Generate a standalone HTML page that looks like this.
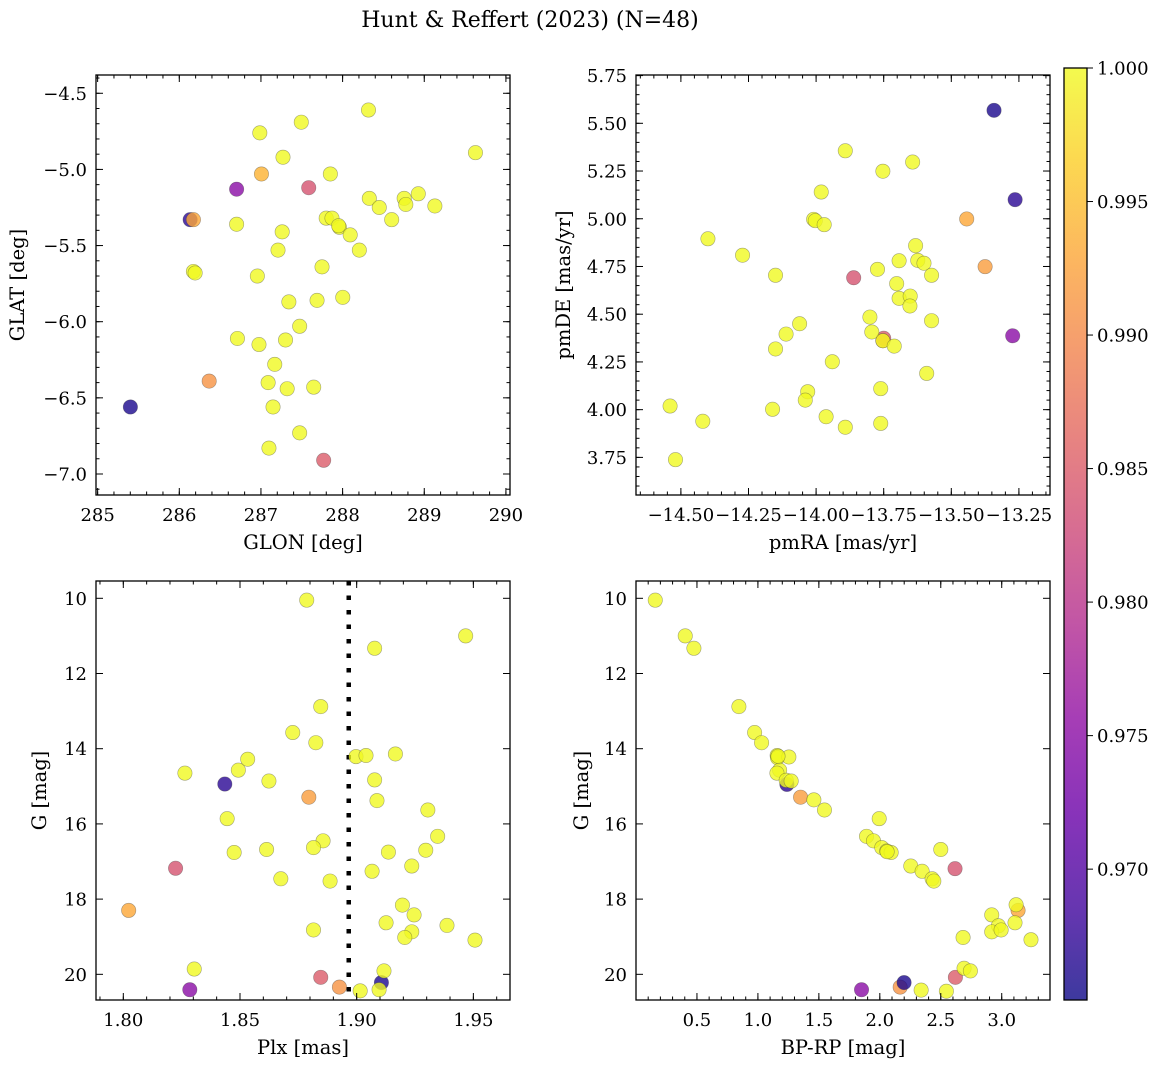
<!DOCTYPE html>
<html>
<head>
<meta charset="utf-8">
<style>
  html,body{margin:0;padding:0;background:#fff;}
  svg{display:block;font-family:"DejaVu Serif","Liberation Serif",serif;}
</style>
</head>
<body>
<svg id="fig" width="1161" height="1068" viewBox="0 0 1161 1068" xmlns="http://www.w3.org/2000/svg">
  <defs>
    <linearGradient id="plasma" x1="0" y1="1" x2="0" y2="0">
      <stop offset="0" stop-color="#0d0887"/>
      <stop offset="0.1" stop-color="#41049d"/>
      <stop offset="0.2" stop-color="#6a00a8"/>
      <stop offset="0.3" stop-color="#8f0da4"/>
      <stop offset="0.4" stop-color="#b12a90"/>
      <stop offset="0.5" stop-color="#cc4778"/>
      <stop offset="0.6" stop-color="#e16462"/>
      <stop offset="0.7" stop-color="#f2844b"/>
      <stop offset="0.8" stop-color="#fca636"/>
      <stop offset="0.9" stop-color="#fcce25"/>
      <stop offset="1" stop-color="#f0f921"/>
    </linearGradient>
  </defs>
  <text x="530" y="27" text-anchor="middle" font-size="22">Hunt &amp; Reffert (2023) (N=48)</text>
</svg>
<script>
// ---- Panel 1: GLON vs GLAT ----
const p1Glon = [285.401,286.133,286.173,286.702,287.006,287.585,287.768,286.366,
  288.317,287.494,286.986,287.270,289.627,287.850,288.327,288.754,288.774,288.927,288.449,289.130,288.601,287.799,287.870,287.961,287.951,288.093,288.205,286.702,287.260,287.209,287.748,286.173,286.194,286.956,287.342,287.687,288.002,287.474,286.712,286.976,287.301,287.169,287.088,287.321,287.646,287.148,287.474,287.098];
const p1Glat = [-6.56,-5.33,-5.33,-5.13,-5.03,-5.12,-6.91,-6.39,
  -4.61,-4.69,-4.76,-4.92,-4.89,-5.03,-5.19,-5.19,-5.23,-5.16,-5.25,-5.24,-5.33,-5.32,-5.32,-5.38,-5.37,-5.43,-5.53,-5.36,-5.41,-5.53,-5.64,-5.67,-5.68,-5.70,-5.87,-5.86,-5.84,-6.03,-6.11,-6.15,-6.12,-6.28,-6.40,-6.44,-6.43,-6.56,-6.73,-6.83];
const p1Prob = [0.966,0.967,0.993,0.975,0.994,0.984,0.985,0.991,
  1,1,1,1,1,1,1,1,1,1,1,1,1,1,1,1,1,1,1,1,1,1,1,1,1,1,1,1,1,1,1,1,1,1,1,1,1,1,1,1];
const p1XTicks = [285,286,287,288,289,290];
const p1XLabels = ["285","286","287","288","289","290"];
const p1YTicks = [-4.5,-5.0,-5.5,-6.0,-6.5,-7.0];
const p1YLabels = ["\u22124.5","\u22125.0","\u22125.5","\u22126.0","\u22126.5","\u22127.0"];

// ---- Panel 2: pmRA vs pmDE ----
const p2Pmra = [-13.342,-13.264,-13.443,-13.375,-13.273,-13.861,-13.750,-13.753,
  -13.892,-13.753,-13.643,-13.981,-14.009,-14.003,-13.970,-14.400,-14.272,-14.150,-13.632,-13.693,-13.624,-13.601,-13.773,-13.573,-13.702,-13.693,-13.652,-13.653,-13.801,-13.573,-14.061,-14.111,-13.794,-13.753,-13.711,-14.150,-13.940,-13.591,-14.031,-14.040,-13.761,-14.540,-14.419,-14.161,-13.963,-13.892,-13.761,-14.520];
const p2Pmde = [5.568,5.100,4.999,4.749,4.387,4.691,4.374,4.361,
  5.356,5.249,5.297,5.140,4.997,4.990,4.969,4.895,4.809,4.704,4.859,4.780,4.782,4.767,4.735,4.704,4.660,4.583,4.595,4.543,4.485,4.466,4.450,4.396,4.407,4.361,4.333,4.318,4.251,4.190,4.094,4.050,4.110,4.019,3.939,4.002,3.963,3.908,3.928,3.738];
const p2Prob = [0.966,0.967,0.993,0.992,0.975,0.984,0.985,0.991,
  1,1,1,1,1,1,1,1,1,1,1,1,1,1,1,1,1,1,1,1,1,1,1,1,1,1,1,1,1,1,1,1,1,1,1,1,1,1,1,1];
const p2XTicks = [-14.5,-14.25,-14.0,-13.75,-13.5,-13.25];
const p2XLabels = ["\u221214.50","\u221214.25","\u221214.00","\u221213.75","\u221213.50","\u221213.25"];
const p2YTicks = [5.75,5.5,5.25,5.0,4.75,4.5,4.25,4.0,3.75];
const p2YLabels = ["5.75","5.50","5.25","5.00","4.75","4.50","4.25","4.00","3.75"];

// ---- Panel 3: Plx vs G ----
const p3Plx = [1.8435,1.8224,1.8023,1.8795,1.8846,1.8926,1.8285,1.9106,
  1.8786,1.9467,1.9077,1.8846,1.8726,1.8825,1.8533,1.8997,1.9040,1.9166,1.8493,1.8264,1.8624,1.9077,1.9087,1.9305,1.8445,1.9347,1.8856,1.8815,1.8614,1.8475,1.9136,1.9296,1.9236,1.9066,1.8675,1.8886,1.9196,1.9246,1.9126,1.9387,1.8815,1.9236,1.9206,1.9507,1.8304,1.9117,1.9015,1.9096];
const p3G = [14.94,17.18,18.30,15.29,20.08,20.34,20.41,20.22,
  10.05,11.00,11.33,12.88,13.57,13.84,14.28,14.21,14.18,14.14,14.57,14.65,14.86,14.83,15.38,15.63,15.86,16.33,16.45,16.63,16.68,16.76,16.75,16.70,17.12,17.26,17.46,17.52,18.16,18.42,18.63,18.70,18.82,18.87,19.02,19.09,19.86,19.91,20.44,20.41];
const p3Prob = [0.967,0.984,0.993,0.992,0.985,0.991,0.975,0.966,
  1,1,1,1,1,1,1,1,1,1,1,1,1,1,1,1,1,1,1,1,1,1,1,1,1,1,1,1,1,1,1,1,1,1,1,1,1,1,1,1];
const p3MeanPlx = [1.8966];
const p3XTicks = [1.80,1.85,1.90,1.95];
const p3XLabels = ["1.80","1.85","1.90","1.95"];
const gTicks = [10,12,14,16,18,20];
const gLabels = ["10","12","14","16","18","20"];

// ---- Panel 4: BP-RP vs G ----
const p4Bprp = [1.238,1.350,2.617,3.134,2.620,2.167,2.199,1.850,
  0.158,0.404,0.475,0.844,0.973,1.030,1.158,1.161,1.254,1.178,1.156,1.232,1.273,1.459,1.546,1.995,1.891,1.948,2.016,2.057,2.093,2.500,2.254,2.347,2.429,2.443,3.118,2.918,3.109,2.973,2.918,2.995,2.683,3.240,2.691,2.743,2.339,2.546,1.165,2.060];
const p4G = [14.95,15.29,17.19,18.30,20.08,20.34,20.22,20.41,
  10.05,11.00,11.33,12.88,13.57,13.84,14.18,14.24,14.22,14.57,14.65,14.84,14.86,15.36,15.63,15.86,16.33,16.45,16.63,16.72,16.76,16.68,17.12,17.26,17.46,17.52,18.15,18.42,18.63,18.71,18.87,18.82,19.02,19.08,19.84,19.91,20.42,20.45,14.20,16.74];
const p4Prob = [0.967,0.992,0.984,0.993,0.985,0.991,0.966,0.975,
  1,1,1,1,1,1,1,1,1,1,1,1,1,1,1,1,1,1,1,1,1,1,1,1,1,1,1,1,1,1,1,1,1,1,1,1,1,1,1,1];
const p4XTicks = [0.5,1.0,1.5,2.0,2.5,3.0];
const p4XLabels = ["0.5","1.0","1.5","2.0","2.5","3.0"];

// ---- Colorbar ----
const cbTicks = [0.970,0.975,0.980,0.985,0.990,0.995,1.000];
const cbLabels = ["0.970","0.975","0.980","0.985","0.990","0.995","1.000"];
const cbMin = 0.9651, cbMax = 1.0;

const TICK_FS = 18, TITLE_FS = 19.5;
const NS = "http://www.w3.org/2000/svg";
const svg = document.getElementById('fig');
function mk(tag, attrs, parent){
  const e = document.createElementNS(NS, tag);
  for (const k in attrs) e.setAttribute(k, attrs[k]);
  (parent||svg).appendChild(e);
  return e;
}
const stops = [[13,8,135],[65,4,157],[106,0,168],[143,13,164],[177,42,144],[204,71,120],[225,100,98],[242,132,75],[252,166,54],[252,206,37],[240,249,33]];
function plasma(v){
  let t = (v-cbMin)/(cbMax-cbMin); t = Math.max(0,Math.min(1,t));
  const f = t*10, i = Math.min(9,Math.floor(f)), r = f-i;
  const a = stops[i], b = stops[i+1];
  return 'rgb('+a.map((c,k)=>Math.round(c+(b[k]-c)*r)).join(',')+')';
}

function panel(cfg){
  const g = mk('g', {});
  
  
  const L=cfg.box[0], T=cfg.box[1], R=cfg.box[2], B=cfg.box[3];
  const sx = v => L + (v-cfg.xlim[0])/(cfg.xlim[1]-cfg.xlim[0])*(R-L);
  const sy = v => B - (v-cfg.ylim[0])/(cfg.ylim[1]-cfg.ylim[0])*(B-T);
  const clip = 'clip-'+cfg.name;
  const cp = mk('clipPath', {id:clip}, g);
  mk('rect', {x:L, y:T, width:R-L, height:B-T}, cp);
  const pts = mk('g', {'clip-path':'url(#'+clip+')'}, g);
  if (cfg.vline){
    const vl = mk('line', {x1:sx(cfg.vline[0]), x2:sx(cfg.vline[0]), y1:T, y2:B, stroke:'#000', 'stroke-width':4.5, 'stroke-dasharray':'4.5 10'}, pts);
    
    
  }
  cfg.x.forEach((_,i)=>{
    const c = mk('circle', {cx:sx(cfg.x[i]), cy:sy(cfg.y[i]), r:7.2, fill:plasma(cfg.p[i]), 'fill-opacity':0.8, stroke:'rgba(60,60,60,0.45)', 'stroke-width':0.6}, pts);
    
    
  });
  const tk = mk('g', {stroke:'#000', 'stroke-width':1}, g);
  const minorX = [], minorY = [];
  for (let v=Math.ceil(cfg.xlim[0]/cfg.xminor-1e-9)*cfg.xminor; v<=cfg.xlim[1]; v+=cfg.xminor) minorX.push(v);
  for (let v=Math.ceil(cfg.ylim[0]/cfg.yminor-1e-9)*cfg.yminor; v<=cfg.ylim[1]; v+=cfg.yminor) minorY.push(v);
  minorX.forEach(v=>{const x=sx(v); mk('line',{x1:x,x2:x,y1:B,y2:B-3.5},tk); mk('line',{x1:x,x2:x,y1:T,y2:T+3.5},tk);});
  minorY.forEach(v=>{const y=sy(v); mk('line',{x1:L,x2:L+3.5,y1:y,y2:y},tk); mk('line',{x1:R,x2:R-3.5,y1:y,y2:y},tk);});
  cfg.xt.forEach((v,i)=>{
    const x=sx(v);
    mk('line',{x1:x,x2:x,y1:B,y2:B-7},tk); mk('line',{x1:x,x2:x,y1:T,y2:T+7},tk);
    const t = mk('text',{x:x,y:B+26,'text-anchor':'middle','font-size':TICK_FS}, g);
    t.textContent = cfg.xl[i];
    
    
  });
  cfg.yt.forEach((v,i)=>{
    const y=sy(v);
    mk('line',{x1:L,x2:L+7,y1:y,y2:y},tk); mk('line',{x1:R,x2:R-7,y1:y,y2:y},tk);
    const t = mk('text',{x:L-9,y:y+6.5,'text-anchor':'end','font-size':TICK_FS}, g);
    t.textContent = cfg.yl[i];
    
    
  });
  const frame = mk('rect',{x:L,y:T,width:R-L,height:B-T,fill:'none',stroke:'#000','stroke-width':1.3}, g);
  
  
  const xt = mk('text',{x:(L+R)/2,y:B+54,'text-anchor':'middle','font-size':TITLE_FS}, g);
  xt.textContent = cfg.xlabel;
  
  
  const yx = cfg.ylabelX;
  const yt = mk('text',{x:yx,y:(T+B)/2,'text-anchor':'middle','font-size':TITLE_FS,transform:'rotate(-90 '+yx+' '+(T+B)/2+')'}, g);
  yt.textContent = cfg.ylabel;
  
  
}

panel({name:'panel-glon-glat', box:[96,75,510,495], xlim:[284.98,290.05], ylim:[-7.138,-4.38],
  x:p1Glon, y:p1Glat, p:p1Prob, xt:p1XTicks, xl:p1XLabels, yt:p1YTicks, yl:p1YLabels,
  xminor:0.2, yminor:0.1, xlabel:'GLON [deg]', ylabel:'GLAT [deg]', ylabelX:24});
panel({name:'panel-pmra-pmde', box:[636,75,1050,495], xlim:[-14.666,-13.135], ylim:[3.553,5.753],
  x:p2Pmra, y:p2Pmde, p:p2Prob, xt:p2XTicks, xl:p2XLabels, yt:p2YTicks, yl:p2YLabels,
  xminor:0.05, yminor:0.05, xlabel:'pmRA [mas/yr]', ylabel:'pmDE [mas/yr]', ylabelX:570});
panel({name:'panel-plx-g', box:[96,581,510,1000], xlim:[1.7883,1.9657], ylim:[20.683,9.54],
  x:p3Plx, y:p3G, p:p3Prob, xt:p3XTicks, xl:p3XLabels, yt:gTicks, yl:gLabels, vline:p3MeanPlx,
  xminor:0.01, yminor:0.5, xlabel:'Plx [mas]', ylabel:'G [mag]', ylabelX:46});
panel({name:'panel-bprp-g', box:[636,581,1050,1000], xlim:[0.0,3.396], ylim:[20.683,9.54],
  x:p4Bprp, y:p4G, p:p4Prob, xt:p4XTicks, xl:p4XLabels, yt:gTicks, yl:gLabels,
  xminor:0.1, yminor:0.5, xlabel:'BP-RP [mag]', ylabel:'G [mag]', ylabelX:588});

(function(){
  const L=1064,T=68,R=1087,B=1000;
  const g = mk('g',{});
  
  
  mk('rect',{x:L,y:T,width:R-L,height:B-T,fill:'url(#plasma)','fill-opacity':0.8}, g);
  mk('rect',{x:L,y:T,width:R-L,height:B-T,fill:'none',stroke:'#000','stroke-width':1.3}, g);
  const sy = v => B - (v-cbMin)/(cbMax-cbMin)*(B-T);
  cbTicks.forEach((v,i)=>{
    const y = sy(v);
    mk('line',{x1:R,x2:R+6,y1:y,y2:y,stroke:'#000','stroke-width':1}, g);
    const t = mk('text',{x:R+10,y:y+6.5,'font-size':TICK_FS}, g);
    t.textContent = cbLabels[i];
    
    
  });
})();
</script>
</body>
</html>
